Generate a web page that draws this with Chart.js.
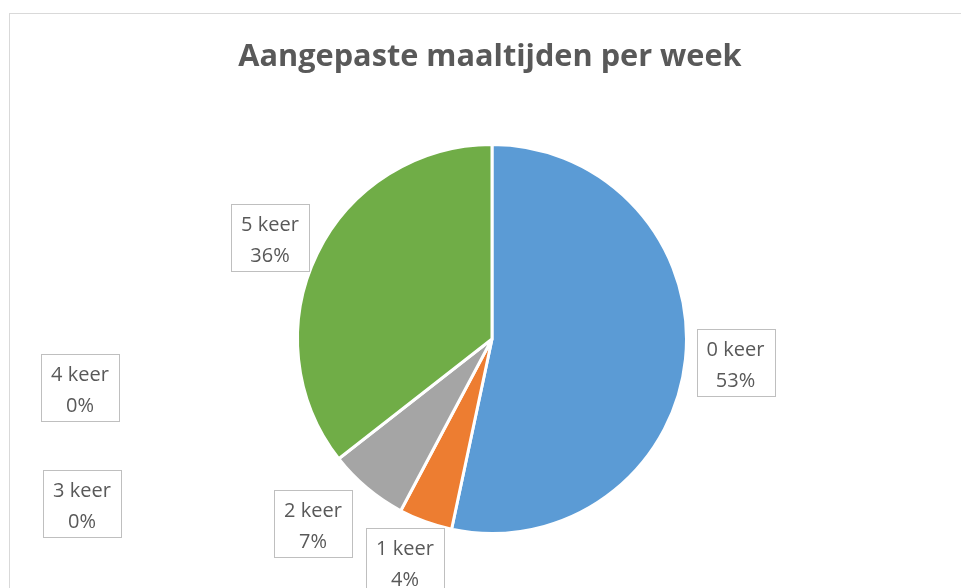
<!DOCTYPE html>
<html>
<head>
<meta charset="utf-8">
<script src="https://cdn.jsdelivr.net/npm/chart.js@4"></script>
<style>
  html, body { margin: 0; padding: 0; background: #fff; overflow: hidden; }
  #frame { position: absolute; left: 9px; top: 13px; width: 1000px; height: 1000px; border: 1px solid #d9d9d9; box-sizing: border-box; }
  #wrap { position: absolute; left: 0; top: 0; width: 961px; height: 588px; }
</style>
</head>
<body>
<div id="frame"></div>
<div id="wrap"><canvas id="c" width="961" height="588"></canvas></div>
<script>
const categories = ["0 keer", "1 keer", "2 keer", "3 keer", "4 keer", "5 keer"];
const counts = [24, 2, 3, 0, 0, 16];
const sliceColors = ["#5B9BD5", "#ED7D31", "#A5A5A5", "#FFC000", "#4472C4", "#70AD47"];
const titleText = "Aangepaste maaltijden per week";
// label box centres (layout, in canvas pixels)
const labelCenters = [[735.5, 362.5], [405, 561.5], [313, 523], [82, 503.5], [80, 387.5], [270, 237.5]];

const total = counts.reduce((a, b) => a + b, 0);
const TITLE_FONT = 'bold 30.7px "Open Sans"';
const LABEL_FONT = '20px "Open Sans"';

const titlePlugin = {
  id: 'ownTitle',
  afterDraw(chart) {
    const ctx = chart.ctx;
    ctx.save();
    ctx.font = TITLE_FONT;
    ctx.fillStyle = '#595959';
    ctx.textAlign = 'center';
    ctx.textBaseline = 'alphabetic';
    ctx.fillText(titleText, 490, 66);
    ctx.restore();
  }
};

const labelPlugin = {
  id: 'boxLabels',
  afterDatasetsDraw(chart) {
    const ctx = chart.ctx;
    ctx.save();
    ctx.font = LABEL_FONT;
    ctx.textAlign = 'center';
    ctx.textBaseline = 'middle';
    const bw = 78, bh = 67;
    categories.forEach((cat, i) => {
      const [cx, cy] = labelCenters[i];
      const x = Math.round(cx - bw / 2) + 0.5;
      const y = Math.round(cy - bh / 2) + 0.5;
      ctx.fillStyle = '#ffffff';
      ctx.fillRect(x, y, bw, bh);
      ctx.strokeStyle = '#BFBFBF';
      ctx.lineWidth = 1;
      ctx.strokeRect(x, y, bw, bh);
      ctx.fillStyle = '#595959';
      const pct = Math.round(counts[i] / total * 100) + '%';
      ctx.fillText(cat, cx, cy - 12);
      ctx.fillText(pct, cx, cy + 19);
    });
    ctx.restore();
  }
};

function build() {
  new Chart(document.getElementById('c'), {
    type: 'pie',
    data: {
      labels: categories,
      datasets: [{
        data: counts,
        backgroundColor: sliceColors,
        borderColor: '#ffffff',
        borderWidth: 3
      }]
    },
    options: {
      responsive: false,
      animation: false,
      layout: { padding: { top: 143, bottom: 53, left: 280, right: 257 } },
      plugins: {
        legend: { display: false },
        tooltip: { enabled: false },
        title: { display: false }
      }
    },
    plugins: [labelPlugin, titlePlugin]
  });
}

Promise.all([
  document.fonts.load(TITLE_FONT, titleText),
  document.fonts.load(LABEL_FONT, '0123456789 keer%')
]).then(build, build);
</script>
</body>
</html>
